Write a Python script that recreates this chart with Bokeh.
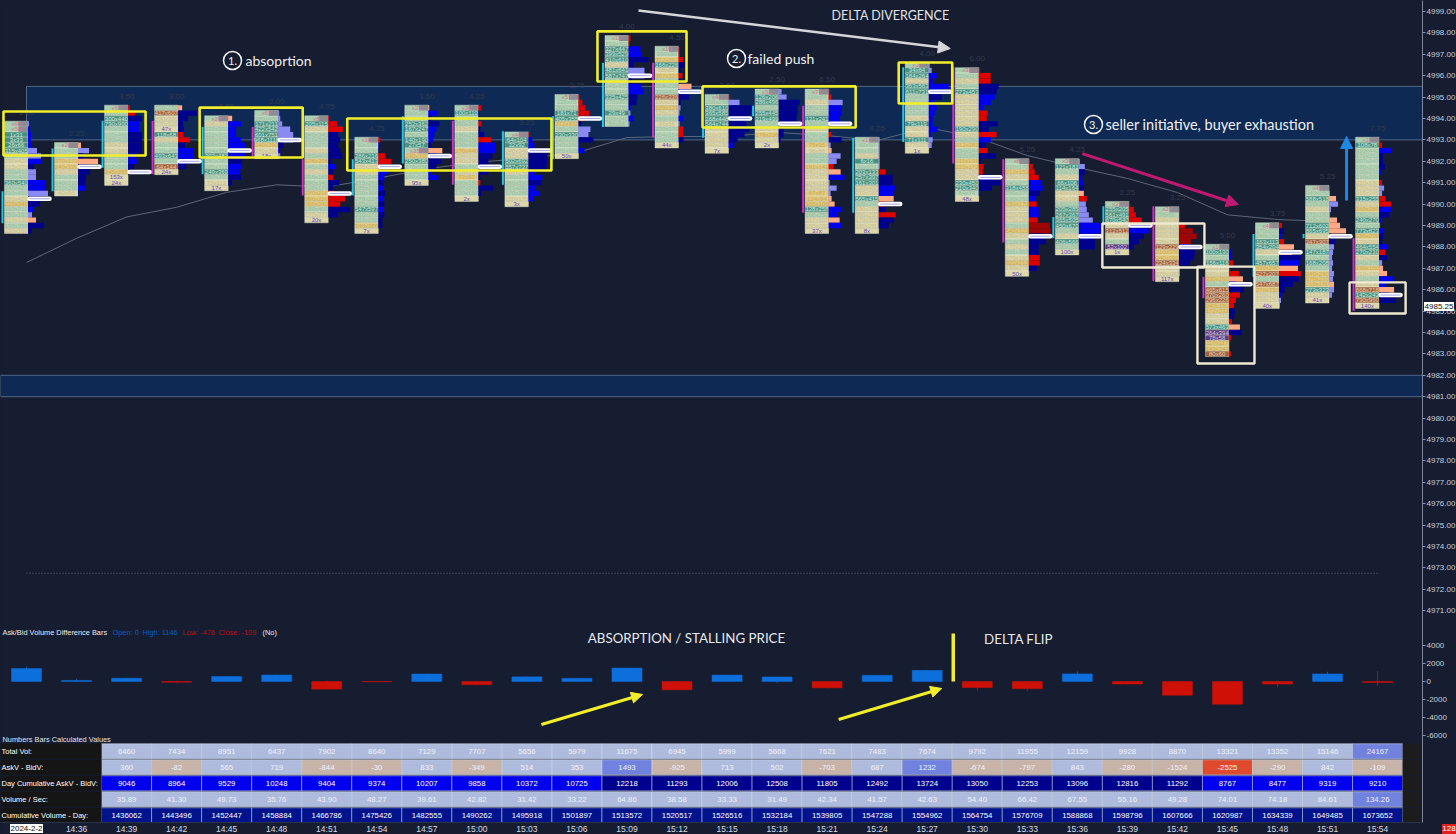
from bokeh.plotting import figure
from bokeh.models import (ColumnDataSource, Range1d, FixedTicker, Label, Arrow, NormalHead, CustomJS, Div)
from bokeh.layouts import column
from bokeh.core.properties import value
from bokeh.embed import file_html
from bokeh.resources import INLINE
from bokeh.io import curdoc

# ---------- time / table data ----------
time_labels = ["", "14:36", "14:39", "14:42", "14:45", "14:48", "14:51", "14:54", "14:57", "15:00", "15:03", "15:06",
               "15:09", "15:12", "15:15", "15:18", "15:21", "15:24", "15:27", "15:30", "15:33", "15:36", "15:39",
               "15:42", "15:45", "15:48", "15:51", "15:54"]
total_vol = [6460, 7434, 8951, 6437, 7902, 8640, 7129, 7707, 5656, 5979, 11675, 6945, 5999, 5668, 7621, 7483, 7674,
             9792, 11955, 12159, 9928, 8870, 13321, 13352, 15146, 24167]
ask_bid = [360, -82, 565, 719, -844, -30, 833, -349, 514, 353, 1493, -925, 713, 502, -703, 687, 1232, -674, -797,
           843, -280, -1524, -2525, -290, 842, -109]
cum_delta = [9046, 8964, 9529, 10248, 9404, 9374, 10207, 9858, 10372, 10725, 12218, 11293, 12006, 12508, 11805,
             12492, 13724, 13050, 12253, 13096, 12816, 11292, 8767, 8477, 9319, 9210]
vol_sec = ["35.89", "41.30", "49.73", "35.76", "43.90", "48.27", "39.61", "42.82", "31.42", "33.22", "64.86", "38.58",
           "33.33", "31.49", "42.34", "41.57", "42.63", "54.40", "66.42", "67.55", "55.16", "49.28", "74.01", "74.18",
           "84.61", "134.26"]
cum_vol = [1436062, 1443496, 1452447, 1458884, 1466786, 1475426, 1482555, 1490262, 1495918, 1501897, 1513572,
           1520517, 1526516, 1532184, 1539805, 1547288, 1554962, 1564754, 1576709, 1588868, 1598796, 1607666,
           1620987, 1634339, 1649485, 1673652]
row_labels = ["Total Vol:", "AskV - BidV:", "Day Cumulative AskV - BidV:", "Volume / Sec:", "Cumulative Volume - Day:"]

# ---------- delta bars ----------
delta_close = [1450, 120] + ask_bid
delta_high = [1650, 300, 410, 60, 610, 760, 90, 50, 880, 40, 540, 380, 1530, 60, 740, 520, 40, 720, 1260, 40, 40,
              1130, 40, 40, 40, 40, 1080, 1146]
delta_low = [-20, -20, -20, -110, -20, -20, -880, -60, -20, -370, -20, -20, -20, -970, -20, -170, -790, -30, -20,
             -1010, -1050, -20, -310, -1550, -2560, -640, -20, -476]

# ---------- per-bar footprint rows (top price, cell class, profile class, delta, lesser side volume) ----------
b00_top = 4993.75
b00_cell = "TTttttgccggtggcyggcgc"
b00_prof = "LBBBBLLBDLLBBLDDBLSDD"
b00_delta = [10, 20, 30, 30, 40, 90, 130, 130, 60, 80, 80, 180, 180, 200, 140, 120, 50, 40, -80, 160, 40]
b00_min = [66, 56, 1, 3, 26, 315, 330, 290, 215, 330, 320, 360, 240, 210, 280, 220, 160, 150, 130, 190, 120]
b01_top = 4992.75
b01_cell = "TggyycgggC"
b01_prof = "SLDSDDDDBD"
b01_delta = [-30, 110, 50, -200, 80, 120, 80, 70, 80, 10]
b01_min = [20, 310, 260, 170, 240, 190, 220, 240, 210, 40]
b02_top = 4994.5
b02_cell = "TgttgggccgggyEE"
b02_prof = "RRDBBDDDDBBDDLL"
b02_delta = [-20, -70, 140, 110, 110, 140, 140, 140, 140, 80, 90, 60, 20, 0, 0]
b02_min = [67, 120, 300, 790, 450, 320, 280, 190, 220, 215, 272, 212, 245, 153, 24]
b03_top = 4994.5
b03_cell = "gbccEtcggtgbE"
b03_prof = "SDDDDRRDBBBDL"
b03_delta = [-40, 190, 100, 50, 60, -50, -120, 70, 150, 150, 120, 80, 0]
b03_min = [150, 417, 290, 270, 47, 68, 210, 240, 310, 493, 320, 64, 24]
b04_top = 4994.0
b04_cell = "TcgggggtggtgcE"
b04_prof = "SBBBBBDBDBBDDL"
b04_delta = [-40, 130, 80, 80, 130, 170, 130, 180, 140, 130, 120, 130, 40, 0]
b04_min = [26, 204, 222, 222, 222, 208, 224, 302, 240, 185, 249, 160, 72, 17]
b05_top = 4994.25
b05_cell = "TgttttycE"
b05_prof = "LLLLLLDBL"
b05_delta = [10, 20, 40, 120, 150, 150, 50, 20, 20]
b05_min = [67, 380, 171, 422, 601, 968, 240, 270, 18]
b06_top = 4994.0
b06_cell = "TtcgggcgygcgggyyygcE"
b06_prof = "RRRDDDDDDBDRDDRRRDDL"
b06_delta = [-10, -90, -150, 100, 120, 100, 120, 140, 30, 70, 50, -50, 110, 50, -60, -170, -120, 220, 100, 0]
b06_min = [8, 115, 205, 240, 210, 172, 190, 260, 176, 145, 180, 165, 230, 120, 210, 226, 240, 180, 172, 20]
b07_top = 4993.0
b07_cell = "TggttccggggggtggyE"
b07_prof = "RBDRRRBBDBDBDBDDDL"
b07_delta = [-20, 10, 10, -70, -130, -20, 100, 60, 50, 50, 70, 50, 60, 50, 60, 40, 40, 0]
b07_min = [10, 90, 120, 216, 413, 215, 240, 180, 215, 185, 230, 178, 165, 547, 210, 110, 346, 7]
b08_top = 4994.5
b08_cell = "TggttgttTytgggE"
b08_prof = "SBDDBBBDSDDDBBL"
b08_delta = [-10, 90, 30, 110, 80, 60, 50, 30, -140, 80, 130, 80, 30, 100, 0]
b08_min = [27, 290, 310, 252, 167, 180, 140, 27, 350, 240, 250, 278, 210, 130, 95]
b09_top = 4994.5
b09_cell = "TtggcgggyccgcygggE"
b09_prof = "RDDRDDRBBDDDDDRDDL"
b09_delta = [-30, 10, 10, -30, 20, 60, -130, 170, 170, 140, 100, 100, 100, 20, -20, 150, 30, 0]
b09_min = [30, 100, 240, 360, 310, 190, 150, 230, 270, 204, 190, 260, 210, 72, 180, 207, 120, 2]
b10_top = 4993.25
b10_cell = "TttccttcggggcE"
b10_prof = "RBBDDDDBBDBBBL"
b10_delta = [-10, 40, 60, 100, 190, 190, 180, 60, 140, 130, 70, 110, 50, 0]
b10_min = [48, 64, 32, 240, 210, 502, 557, 180, 230, 260, 221, 170, 120, 3]
b11_top = 4995.0
b11_cell = "TggttygtgggE"
b11_prof = "RRRRRDLLDBBL"
b11_delta = [-10, -40, -70, -110, -50, 30, 120, 100, 150, 10, 60, 0]
b11_min = [57, 75, 216, 71, 355, 272, 180, 230, 142, 240, 165, 50]
b12_top = 4997.75
b12_cell = "Tgtttcttgggtggtgg"
b12_prof = "RRBBDDLLDBBDDBLBL"
b12_delta = [-20, -10, 120, 130, 200, 50, 160, 160, 30, 130, 150, 90, 80, 20, 20, 50, 10]
b12_min = [19, 702, 327, 399, 410, 240, 481, 587, 260, 245, 290, 335, 270, 210, 29, 190, 84]
b13_top = 4997.25
b13_cell = "TgytcyggGbcycgcgggE".replace("G", "g")
b13_prof = "RRRDDRDSBDDLLBLRRDL"
b13_delta = [-10, -10, -50, 60, 20, -40, 20, -130, 100, 110, 20, 20, 10, 50, 10, -50, -50, 50, 0]
b13_min = [19, 90, 262, 166, 68, 327, 240, 228, 310, 226, 190, 109, 126, 260, 46, 170, 154, 210, 44]
b14_top = 4995.0
b14_cell = "TgttttccccE"
b14_prof = "RLDDDDDDDBL"
b14_delta = [-10, 110, 230, 220, 180, 180, 210, 160, 90, 50, 0]
b14_min = [40, 158, 380, 365, 268, 564, 240, 210, 190, 140, 7]
b15_top = 4995.25
b15_cell = "TttgttgcycE"
b15_prof = "LLDDDDDDDDL"
b15_delta = [30, 80, 210, 190, 190, 180, 200, 50, 50, 20, 0]
b15_min = [32, 126, 286, 260, 255, 319, 340, 190, 176, 120, 2]
b16_top = 4995.25
b16_cell = "TgcggtgcggycggyccccyyytgccE"
b16_prof = "RRLBBBBDRDLSLLRSBLLLSSBBSBL"
b16_delta = [-10, -30, 140, 130, 130, 110, 150, 10, -30, 130, 20, -30, 120, 80, -50, -120, 160, 10, 80, 20, -30, -60,
             130, 90, -110, 130, 0]
b16_min = [71, 84, 170, 180, 150, 131, 190, 210, 140, 230, 75, 66, 190, 180, 141, 120, 210, 104, 130, 67, 94, 106,
           128, 160, 107, 150, 37]
b17_top = 4993.0
b17_cell = "TggctgtttcctgccccE"
b17_prof = "LLLLLLRDDBBSRDRDDL"
b17_delta = [10, 10, 10, 10, 10, 10, -70, 140, 140, 170, 150, -150, -60, 70, -170, 150, 100, 0]
b17_min = [19, 40, 96, 120, 6, 91, 133, 257, 161, 230, 210, 415, 240, 190, 220, 170, 160, 8]
b18_top = 4996.5
b18_cell = "TttcttggggctcctcE"
b18_prof = "LLBBBBDBBBBBBBLLL"
b18_delta = [10, 30, 80, 40, 200, 120, 130, 50, 80, 60, 40, 40, 90, 20, 40, 30, 0]
b18_min = [34, 34, 184, 210, 363, 611, 290, 216, 192, 122, 240, 79, 170, 190, 71, 177, 1]
b19_top = 4996.25
b19_cell = "Tgcgtcccccctcgyggyyccttgt"[:24] + "E"
b19_prof = "RRRDDBBBRRDDRBDRDDRRBDDBL"
b19_delta = [-10, -120, -120, 200, 180, 160, 120, 50, -90, -80, 190, 100, -180, 120, 70, -90, 170, 20, -50, -40,
             130, 220, 130, 10, 0]
b19_min = [31, 110, 184, 240, 273, 190, 210, 172, 180, 160, 250, 190, 260, 240, 212, 144, 220, 111, 172, 190, 260,
           230, 210, 64, 48]
b20_top = 4992.0
b20_cell = "TgycgtggycccgycgcgcycE"
b20_prof = "RRRRBBDBRBBRMMDDDDRRDL"
b20_delta = [-10, -40, -60, -100, 130, 140, 110, 70, -80, 100, 100, -90, -210, -220, 140, 170, 100, 100, -110, -110,
             80, 0]
b20_min = [8, 170, 152, 190, 240, 318, 260, 190, 170, 210, 220, 180, 160, 322, 190, 210, 172, 201, 160, 212, 190, 50]
b21_top = 4992.0
b21_cell = "TtgcttccgttttgctgE"
b21_prof = "LLDBBDSRLLLLBBBDDL"
b21_delta = [10, 60, 60, 30, 40, 50, -50, -80, 70, 80, 100, 140, 220, 220, 150, 160, 160, 0]
b21_min = [30, 121, 200, 170, 66, 114, 190, 160, 140, 205, 267, 365, 450, 260, 220, 406, 190, 100]
b22_top = 4990.0
b22_cell = "TtttcbcgpE"
b22_prof = "RRRRDBDDDL"
b22_delta = [-10, -50, -70, -130, -20, 200, 150, 100, 50, 0]
b22_min = [20, 205, 491, 540, 180, 312, 190, 240, 52, 1]
b23_top = 4989.75
b23_cell = "TgcccccbyybccE"
b23_prof = "RRRRMMMBDDDLLL"
b23_delta = [-10, -10, -10, -60, -140, -180, -120, 100, 160, 150, 110, 10, 10, 0]
b23_min = [23, 66, 190, 170, 180, 160, 150, 129, 210, 240, 224, 190, 170, 117]
b24_top = 4988.0
b24_cell = "Ttgtccygbbbyycctppyyb"
b24_prof = "RBBRLRSBDRRRDDRSDRLLR"
b24_delta = [-10, 30, 30, -40, 0, -100, -140, 70, 150, -110, -70, -50, 60, 50, -30, -110, 130, -20, 0, 0, -20]
b24_min = [10, 100, 120, 116, 180, 140, 190, 210, 465, 260, 226, 190, 172, 160, 150, 463, 264, 58, 117, 143, 60]
b25_top = 4989.0
b25_cell = "TggttcgtybgbyccE"
b25_prof = "RDBRSSDBSRDDDBLL"
b25_delta = [-30, 50, 20, -50, -150, -130, 220, 200, -190, -220, 200, 140, 60, 20, 20, 10]
b25_min = [41, 170, 240, 113, 204, 260, 190, 457, 240, 207, 190, 547, 270, 150, 130, 40]
b26_top = 4990.75
b26_cell = "TgtgcggttcbgtgtgyyytcE"
b26_prof = "LLSLLLSSSDDLLLLLLLSLLL"
b26_delta = [0, 10, -70, 90, 20, 10, -80, -110, -170, 20, 60, 50, 40, 30, 40, 30, 50, 40, -50, 50, 30, 0]
b26_min = [45, 240, 518, 210, 190, 172, 260, 602, 695, 230, 247, 190, 147, 210, 168, 190, 240, 170, 160, 273, 113, 41]
b27_top = 4993.0
b27_cell = "TtggggggccctcygtgtycttcgycgcbtbE"
b27_prof = "RRBDDDBDRLLRRBDBLBDDBRDLSSBBSDDL"
b27_delta = [-10, -30, 130, 40, 40, 60, 20, 10, -30, 50, 30, -60, -120, 120, 100, 30, 10, 50, 40, 30, 90, -60, 80, 30,
             -40, -80, 150, 70, -150, 100, 170, 0]
b27_min = [19, 78, 310, 172, 207, 160, 190, 210, 180, 170, 215, 255, 190, 160, 180, 240, 210, 773, 180, 170, 464, 210,
           170, 240, 150, 130, 210, 160, 718, 142, 790, 140]

poc_price = [4990.25, 4991.75, 4991.5, 4992.0, 4992.5, 4993.0, 4990.5, 4991.75, 4992.25, 4991.75, 4992.5, 4994.0,
             4996.0, 4995.25, 4994.0, 4993.75, 4993.75, 4990.0, 4995.25, 4991.25, 4988.5, 4988.5, 4989.0, 4988.0,
             4986.25, 4987.75, 4988.5, 4985.75]
vwap_price = [4987.27, 4988.4, 4989.4, 4989.85, 4990.55, 4990.9, 4990.8, 4991.2, 4991.65, 4991.95, 4992.15, 4992.4,
              4993.11, 4993.16, 4993.16, 4993.35, 4993.2, 4992.97, 4993.58, 4993.11, 4992.27, 4991.71, 4991.2,
              4990.54, 4989.5, 4989.28, 4989.19]
stack_kind = ["c", "c", "c", "m", "c", "m", "m", "c", "c", "m", "c", "c", "c", "m", "c", "c", "m", "c", "c", "m", "m",
              "c", "c", "m", "m", "c", "c", "m"]
stack_hi = [4990.6, 4992.6, 4993.9, 4993.9, 4993.6, 4993.6, 4992.1, 4992.1, 4994.1, 4993.9, 4993.4, 4994.1, 4996.6,
            4996.6, 4993.6, 4994.6, 4994.6, 4993.1, 4996.4, 4996.4, 4992.1, 4989.4, 4989.9, 4989.9, 4986.6, 4988.6,
            4988.6, 4988.4]
stack_lo = [4989.1, 4990.6, 4991.7, 4991.4, 4991.4, 4992.25, 4990.4, 4990.4, 4991.9, 4990.9, 4990.9, 4992.1, 4993.6,
            4993.1, 4993.1, 4994.1, 4989.6, 4989.6, 4992.9, 4991.9, 4988.2, 4988.4, 4989.0, 4986.4, 4985.6, 4986.6,
            4988.4, 4985.0]

price_ticks = list(range(4971, 5000))
delta_ticks = [4000, 2000, 0, -2000, -4000, -6000]

# ---------- scale helpers: reference layout ----------
W, H = 1456, 834
R, B = 34, 12
fw, fh = W - R, H - B
px_per_bar = 50.04
px_per_pt = 21.4
px_per_delta = 0.009
x0_px, y4999_px, y0_delta = 26.0, 11.0, 681.0
xd = lambda px: (px - x0_px) / px_per_bar
yd = lambda py: 4999 - (py - y4999_px) / px_per_pt
yv = lambda py: (y0_delta - py) / px_per_delta

BG = "#161d30"
p = figure(frame_width=fw, frame_height=fh, output_backend="svg", toolbar_location=None, y_axis_location="right",
           x_range=Range1d(xd(0), xd(fw)), y_range=Range1d(yd(fh), yd(0)),
           min_border_left=0, min_border_right=0, min_border_top=0, min_border_bottom=0,
           background_fill_color=BG, border_fill_color=BG, outline_line_color=None)
p.grid.visible = False
p.extra_y_ranges = {"delta": Range1d(yv(fh), yv(0)),
                    "table": Range1d((fh - 750.8) / 16, -750.8 / 16)}

# axes
def d2p(v):
    return round(yd(y0_delta - v * px_per_delta), 4)
yt = [float(t) for t in price_ticks] + [d2p(v) for v in delta_ticks]
ya = p.yaxis[0]
ya.ticker = FixedTicker(ticks=yt)
ya.major_label_overrides = {**{float(t): f"{t}.00" for t in price_ticks}, **{d2p(v): str(v) for v in delta_ticks}}
ya.major_label_text_color = "#c8ced8"
ya.major_label_text_font_size = "8px"
ya.major_label_text_font = "Liberation Sans"
ya.major_label_standoff = 1
ya.major_tick_out = 3
ya.major_tick_in = 0
ya.minor_tick_out = 0
ya.minor_tick_in = 0
ya.major_tick_line_color = "#8a93a3"
ya.axis_line_color = "#7d8798"
xa = p.xaxis[0]
xa.ticker = FixedTicker(ticks=list(range(1, 28)))
xa.major_label_overrides = {i: t for i, t in enumerate(time_labels) if t}
xa.major_label_text_color = "#d8dce4"
xa.major_label_text_font_size = "8.5px"
xa.major_label_text_font = "Liberation Sans"
xa.major_label_standoff = 1
xa.major_tick_out = 0
xa.major_tick_in = 0
xa.minor_tick_out = 0
xa.minor_tick_in = 0
xa.axis_line_color = "#2b3346"

# bands
p.quad(left=[0, xd(0)], right=[xd(fw), xd(fw)], top=[4995.5, 4982], bottom=[4993, 4981],
       fill_color="#0e2a54", line_color="#6f83a3", line_width=0.7)
p.segment(x0=[0], x1=[27], y0=[4972.75], y1=[4972.75], line_color="#5c6b85", line_width=1, line_dash="1 2")
p.line(list(range(len(vwap_price))), vwap_price, line_color="#5e6678", line_width=1)

# footprint
CELL = {"g": "#b4d3b4", "t": "#47907f", "c": "#dcd6a9", "C": "#dcd6a9", "y": "#e2c97c", "b": "#a2643f",
        "p": "#5e3b7c", "T": "#a9cfb1", "E": "#dcd6a9"}
TEXTC = {"g": "#98bca0", "t": "#cfe6dc", "c": "#c4bd92", "C": "#c4bd92", "y": "#c4ab5e", "b": "#e6cbb0",
         "p": "#d6c4e4", "T": "#d8708e", "E": "#6a48c0"}
PROF = {"B": "#0000f0", "D": "#00008e", "L": "#8a8af2", "S": "#ffa985", "R": "#e00202", "M": "#a00505"}

bars = [
    (b00_top, b00_cell, b00_prof, b00_delta, b00_min), (b01_top, b01_cell, b01_prof, b01_delta, b01_min),
    (b02_top, b02_cell, b02_prof, b02_delta, b02_min), (b03_top, b03_cell, b03_prof, b03_delta, b03_min),
    (b04_top, b04_cell, b04_prof, b04_delta, b04_min), (b05_top, b05_cell, b05_prof, b05_delta, b05_min),
    (b06_top, b06_cell, b06_prof, b06_delta, b06_min), (b07_top, b07_cell, b07_prof, b07_delta, b07_min),
    (b08_top, b08_cell, b08_prof, b08_delta, b08_min), (b09_top, b09_cell, b09_prof, b09_delta, b09_min),
    (b10_top, b10_cell, b10_prof, b10_delta, b10_min), (b11_top, b11_cell, b11_prof, b11_delta, b11_min),
    (b12_top, b12_cell, b12_prof, b12_delta, b12_min), (b13_top, b13_cell, b13_prof, b13_delta, b13_min),
    (b14_top, b14_cell, b14_prof, b14_delta, b14_min), (b15_top, b15_cell, b15_prof, b15_delta, b15_min),
    (b16_top, b16_cell, b16_prof, b16_delta, b16_min), (b17_top, b17_cell, b17_prof, b17_delta, b17_min),
    (b18_top, b18_cell, b18_prof, b18_delta, b18_min), (b19_top, b19_cell, b19_prof, b19_delta, b19_min),
    (b20_top, b20_cell, b20_prof, b20_delta, b20_min), (b21_top, b21_cell, b21_prof, b21_delta, b21_min),
    (b22_top, b22_cell, b22_prof, b22_delta, b22_min), (b23_top, b23_cell, b23_prof, b23_delta, b23_min),
    (b24_top, b24_cell, b24_prof, b24_delta, b24_min), (b25_top, b25_cell, b25_prof, b25_delta, b25_min),
    (b26_top, b26_cell, b26_prof, b26_delta, b26_min), (b27_top, b27_cell, b27_prof, b27_delta, b27_min),
]
CL, CR = -22 / px_per_bar, 1.5 / px_per_bar
cx, cy, cc, ct, ctc, px_, py_, pr_, pc_ = [], [], [], [], [], [], [], [], []
rl, rr, rt, rb, rc_, rng_x, rng_y, rng_t = [], [], [], [], [], [], [], []
for i, (top, cells, profs, deltas, mins) in enumerate(bars):
    n = len(deltas)
    rng_x.append(i); rng_y.append(top + 0.55); rng_t.append(f"{(n - 1) * 0.25:.2f}")
    for r, (k, q, d, m) in enumerate(zip(cells, profs, deltas, mins)):
        price = top - r * 0.25
        cx.append(i); cy.append(price); cc.append(CELL[k]); ctc.append(TEXTC[k])
        if k == "T":
            ct.append(f"x{m}")
            rl.append(i - 8 / px_per_bar); rr.append(i + CR); rt.append(price + .125); rb.append(price - .125)
            rc_.append("#8b8c94")
        elif k == "E":
            ct.append(f"{m}x")
        else:
            ct.append(f"{m + max(-d, 0)}x{m + max(d, 0)}")
        if d:
            px_.append(i + CR); py_.append(price); pr_.append(i + CR + abs(d) / 10 / px_per_bar); pc_.append(PROF[q])

src = ColumnDataSource(dict(l=[x + CL for x in cx], r=[x + CR for x in cx], t=[y + .125 for y in cy],
                            b=[y - .125 for y in cy], c=cc, tc=ctc, txt=ct, x=[x + (CL + CR) / 2 for x in cx], y=cy))
p.quad(left="l", right="r", top="t", bottom="b", fill_color="c", line_color="#e6e9d6", line_width=0.4, source=src)
p.quad(left=rl, right=rr, top=rt, bottom=rb, fill_color=rc_, line_color=None)
p.hbar(y=py_, left=px_, right=pr_, height=0.25, fill_color=pc_, line_color=None)
p.text(x="x", y="y", text="txt", source=src, text_color="tc", text_font_size="6px", text_align="center",
       text_baseline="middle", text_font=value("Liberation Sans"))
p.text(x=rng_x, y=rng_y, text=rng_t, text_color="#343b4e", text_font_size="8px", text_align="center",
       text_baseline="middle", text_font=value("Liberation Sans"))

# volume-stack markers
mx = [i - 24 / px_per_bar for i in range(28)]
mc = ["#25c8dc" if k == "c" else "#d22fc4" for k in stack_kind]
p.segment(x0=mx, x1=mx, y0=stack_lo, y1=stack_hi, line_color=mc, line_width=2)

# POC pills
pl = [i + 3 / px_per_bar for i in range(28)]
pr2 = [i + 23 / px_per_bar for i in range(28)]
p.segment(x0=pl, x1=pr2, y0=poc_price, y1=poc_price, line_color="#ffffff", line_width=4.5, line_cap="round")
p.segment(x0=pl, x1=pr2, y0=poc_price, y1=poc_price, line_color="#8a8fd8", line_width=0.8)

# annotation boxes
p.quad(left=[-0.46, 3.46, 6.41, 11.41, 13.51, 17.43], right=[2.38, 5.52, 10.49, 13.19, 16.57, 18.5],
       top=[4994.33, 4994.51, 4994.0, 4998.07, 4995.5, 4996.62], bottom=[4992.27, 4992.18, 4991.57, 4995.73, 4993.58, 4994.7],
       fill_color=None, line_color="#f2ee2a", line_width=2.6)
p.quad(left=[21.5, 23.4, 26.44], right=[23.54, 24.54, 27.56], top=[4989.09, 4987.08, 4986.34],
       bottom=[4987.04, 4982.55, 4984.89], fill_color=None, line_color="#efe9cf", line_width=2.4)

# delta bars
xs = list(range(28))
dc = ["#0d6fdc" if v >= 0 else "#cf1006" for v in delta_close]
p.segment(x0=xs, x1=xs, y0=delta_low, y1=delta_high, line_color=dc, line_width=0.8, y_range_name="delta")
p.quad(left=[i - 0.3 for i in xs], right=[i + 0.3 for i in xs], top=[max(v, 0) for v in delta_close],
       bottom=[min(v, 0) for v in delta_close], fill_color=dc, line_color=dc, line_width=0.5, y_range_name="delta")
# delta-flip tick
p.segment(x0=[18.52], x1=[18.52], y0=[0], y1=[5333], line_color="#f2ee2a", line_width=3.5, y_range_name="delta")

# arrows
def arrow(x0, y0, x1, y1, col, lw, size, rng="default"):
    p.add_layout(Arrow(end=NormalHead(size=size, fill_color=col, line_color=col), x_start=x0, y_start=y0, x_end=x1,
                       y_end=y1, line_color=col, line_width=lw, y_range_name=rng))
arrow(12.23, 4999.05, 18.46, 4997.27, "#d4d6da", 2.5, 12)
arrow(21.10, 4992.36, 24.22, 4989.98, "#c01a70", 3, 12)
arrow(26.38, 4990.17, 26.38, 4993.16, "#1e88e5", 3, 12)
arrow(10.29, -4778, 12.31, -1444, "#f2ee2a", 3, 11, "delta")
arrow(16.23, -4222, 18.29, -778, "#f2ee2a", 3, 11, "delta")

# table
rows = [[str(v) for v in total_vol], [str(v) for v in ask_bid], [str(v) for v in cum_delta], vol_sec,
        [str(v) for v in cum_vol]]
LIGHT, HI, TAN, RED, BRIGHT, DARK, NAVY = "#aebbdd", "#7082de", "#c8b3a9", "#e04a2c", "#0000ee", "#00008e", "#00128c"
fills = [
    [HI if v >= 20000 else LIGHT for v in total_vol],
    [RED if v <= -2000 else TAN if v < 0 else HI if v >= 1200 else LIGHT for v in ask_bid],
    [BRIGHT if v < 11000 else DARK for v in cum_delta],
    [HI if float(v) >= 100 else LIGHT for v in vol_sec],
    [NAVY] * 26,
]
tl, tr, tt, tb, tf, tcol, tyy, txx, txt = [], [], [], [], [], [], [], [], []
for r, (vals, fs) in enumerate(zip(rows, fills)):
    for j, (v, f) in enumerate(zip(vals, fs)):
        tl.append(j + 1.5); tr.append(j + 2.5); tt.append(r - .47); tb.append(r + .47); tf.append(f)
        txx.append(j + 2); tyy.append(r); txt.append(v)
        tcol.append("#ffffff" if r in (2, 4) else "#eef2fa")
p.quad(left=tl, right=tr, top=tt, bottom=tb, fill_color=tf, line_color="#d9e0f2", line_width=0.5, y_range_name="table")
hr = list(range(5))
p.quad(left=[xd(0)] * 5, right=[1.5] * 5, top=[r - .47 for r in hr], bottom=[r + .47 for r in hr], fill_color="#151515",
       line_color=None, y_range_name="table")
p.quad(left=[27.5] * 5, right=[xd(1420)] * 5, top=[r - .47 for r in hr], bottom=[r + .47 for r in hr],
       fill_color="#1c1c1c", line_color=None, y_range_name="table")
p.text(x=txx, y=tyy, text=txt, text_color=tcol, text_font_size="7.8px", text_align="center", text_baseline="middle",
       text_font=value("Liberation Sans"), y_range_name="table")
p.text(x=[xd(1)] * 5, y=hr, text=row_labels, text_color="#ffffff", text_font_size="7.5px", text_align="left",
       text_baseline="middle", text_font=value("Liberation Sans"), y_range_name="table")

# text labels
def lab(text, px, py, col="#ffffff", size="13px", font="Lato", align="left"):
    p.add_layout(Label(x=xd(px), y=yd(py), text=text, text_color=col, text_font_size=size, text_font=font,
                       text_align=align, text_baseline="middle"))

F = "Liberation Sans"
lab("DELTA DIVERGENCE", 890, 15, "#e2e4e8", "12.5px", align="center")
lab("absoprtion", 245, 60, "#f0f0f0", "14px")
lab("failed push", 747, 58, "#f0f0f0", "14px")
lab("seller initiative, buyer exhaustion", 1105, 124, "#f0f0f0", "14.5px")
lab("1.", 232, 60, "#f0f0f0", "11px", align="center")
lab("2.", 736, 58, "#f0f0f0", "11px", align="center")
lab("3.", 1093, 124, "#f0f0f0", "11px", align="center")
p.scatter(x=[xd(232), xd(736), xd(1093)], y=[yd(60), yd(58), yd(124)], marker="circle", size=18, fill_color=None,
          line_color="#f4f4f4", line_width=1.5)
lab("ABSORPTION / STALLING PRICE", 686, 637, "#e6e8ec", "13.3px", align="center")
lab("DELTA FLIP", 1018, 638, "#e6e8ec", "13.3px", align="center")
lab("Ask/Bid Volume Difference Bars", 2, 632, "#e8eaf0", "7.4px", F)
lab("Open: 0", 112, 632, "#0d5fc0", "7.4px", F)
lab("High: 1146", 142, 632, "#0d5fc0", "7.4px", F)
lab("Low: -476", 182, 632, "#b81010", "7.4px", F)
lab("Close: -109", 218, 632, "#b81010", "7.4px", F)
lab("(No)", 262, 632, "#e8eaf0", "7.4px", F)
lab("Numbers Bars Calculated Values", 2, 739, "#e0e4ea", "7.4px", F)

def tag(text, left, top, w, h, bg, fg):
    return Div(text=text, width=w, height=h, margin=0, styles={
        "position": "fixed", "left": f"{left}px", "top": f"{top}px", "background": bg, "color": fg,
        "font": "8px 'Liberation Sans'", "line-height": f"{h}px", "text-align": "center", "white-space": "nowrap",
        "overflow": "hidden", "z-index": "10"})

root = column(p, tag("2024-2-2", 10, 824, 33, 9, "#ffffff", "#101010"),
              tag("4985.25", 1424, 302, 30, 9, "#ffffff", "#101010"),
              tag("128", 1442, 824, 14, 10, "#e02020", "#ffffff"), spacing=0, margin=0)

doc = curdoc()
doc.add_root(root)
doc.js_on_event("document_ready", CustomJS(code=
    "document.body.style.margin='0';document.body.style.overflow='hidden';"
    "document.documentElement.style.background='#161d30';document.body.style.background='#161d30';"))
open("out.html", "w").write(file_html(root, INLINE))
